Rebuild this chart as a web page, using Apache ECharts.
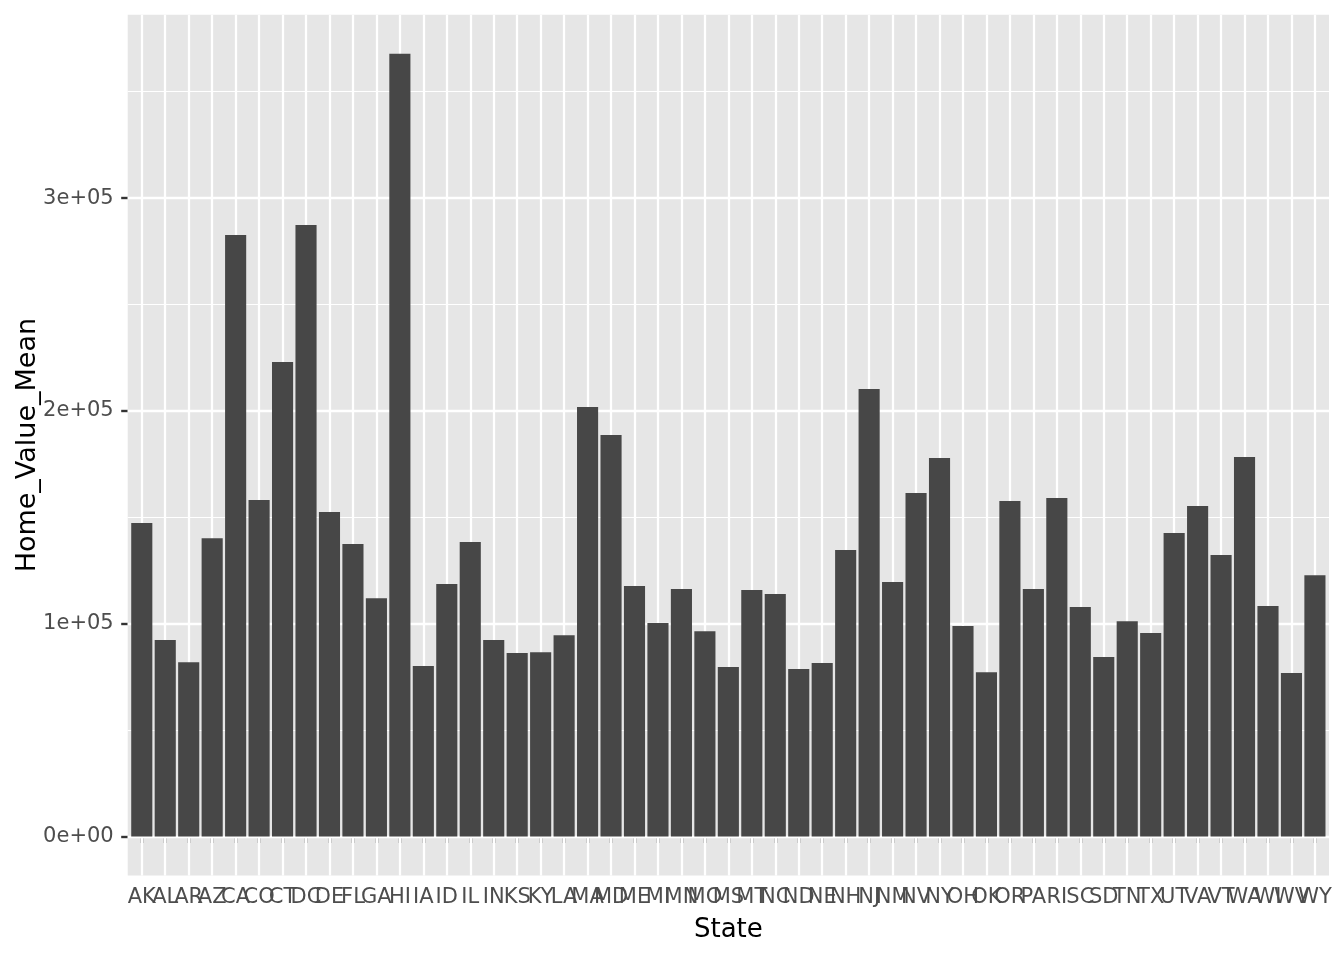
<!DOCTYPE html>
<html>
<head>
<meta charset="utf-8">
<script src="https://cdn.jsdelivr.net/npm/echarts@6/dist/echarts.min.js"></script>
<style>
html,body{margin:0;padding:0;background:#fff;}
#chart{width:1344px;height:960px;}
</style>
</head>
<body>
<div id="chart"></div>
<script>
const states = ['AK','AL','AR','AZ','CA','CO','CT','DC','DE','FL','GA','HI','IA','ID','IL','IN','KS','KY','LA','MA','MD','ME','MI','MN','MO','MS','MT','NC','ND','NE','NH','NJ','NM','NV','NY','OH','OK','OR','PA','RI','SC','SD','TN','TX','UT','VA','VT','WA','WI','WV','WY'];
const homeValueMean = [147300,92300,81900,140200,282700,158100,223000,287400,152500,137400,112000,367800,80100,118600,138400,92300,86200,86600,94600,201800,188700,117700,100300,116300,96500,79600,115800,113900,78700,81500,134600,210300,119600,161400,177900,98900,77200,157600,116300,159100,107800,84300,101200,95600,142600,155300,132300,178300,108300,76800,122800];
const yMajorTicks = [0,100000,200000,300000];
const yMajorLabels = ['0e+00','1e+05','2e+05','3e+05'];
const yMinorGrid = [50000,150000,250000,350000];

// ggplot-style continuous expansion (5%) and discrete expansion (0.6 units)
const maxVal = Math.max(...homeValueMean);
const yMin = -0.05 * maxVal;
const yMax = 1.05 * maxVal;

const panel = {left:127.7, right:1329, top:14.7, bottom:875.6};
const unit = (panel.right - panel.left) / (states.length - 1 + 1.2);
const barGrid = {left: panel.left + 0.1*unit, width: states.length*unit};

const FONT = 'DejaVu Sans';
const chart = echarts.init(document.getElementById('chart'), null, {renderer:'canvas'});
chart.setOption({
  animation:false,
  backgroundColor:'#ffffff',
  grid:[
    {left:panel.left, top:panel.top, width:panel.right-panel.left, height:panel.bottom-panel.top,
     show:true, backgroundColor:'#E6E6E6', borderWidth:0},
    {left:barGrid.left, top:panel.top, width:barGrid.width, height:panel.bottom-panel.top}
  ],
  xAxis:[
    {gridIndex:0, type:'value', min:0, max:1, show:false},
    {gridIndex:1, type:'category', data:states,
     axisLine:{show:false},
     axisTick:{show:true, alignWithLabel:true, length:6.5, lineStyle:{color:'#333333', width:2.4}},
     axisLabel:{interval:0, margin:11, fontFamily:FONT, fontSize:21, color:'#4D4D4D'},
     splitLine:{show:false},
     name:'State', nameLocation:'middle', nameGap:42,
     nameTextStyle:{fontFamily:FONT, fontSize:26, color:'#000000'}}
  ],
  yAxis:[
    {gridIndex:0, type:'value', min:yMin, max:yMax,
     axisLine:{show:false},
     splitLine:{show:false},
     axisTick:{show:true, customValues:yMajorTicks, length:6.5, lineStyle:{color:'#333333', width:2.4}},
     axisLabel:{customValues:yMajorTicks, margin:14, fontFamily:FONT, fontSize:21, color:'#4D4D4D',
       formatter:function(v){const i=yMajorTicks.indexOf(v);return i>=0?yMajorLabels[i]:'';}},
     name:'Home_Value_Mean', nameLocation:'middle', nameGap:86, nameMoveOverlap:false,
     nameTextStyle:{fontFamily:FONT, fontSize:27, color:'#000000'}},
    {gridIndex:1, type:'value', min:yMin, max:yMax, show:false}
  ],
  series:[
    {type:'line', xAxisIndex:0, yAxisIndex:0, data:[], z:1, silent:true,
     markLine:{silent:true, z:1, symbol:['none','none'], label:{show:false}, animation:false,
       data: yMajorTicks.map(v=>({yAxis:v, lineStyle:{color:'#ffffff', width:2.3, type:'solid'}}))
         .concat(yMinorGrid.map(v=>({yAxis:v, lineStyle:{color:'#ffffff', width:1.2, type:'solid'}})))}},
    {type:'line', xAxisIndex:1, yAxisIndex:1, data:[], z:1, silent:true,
     markLine:{silent:true, z:1, symbol:['none','none'], label:{show:false}, animation:false,
       data: states.map(s=>({xAxis:s, lineStyle:{color:'#ffffff', width:2.3, type:'solid'}}))}},
    {type:'bar', xAxisIndex:1, yAxisIndex:1, data:homeValueMean, z:3,
     barCategoryGap:'10%', itemStyle:{color:'#474747'}, silent:true}
  ]
});
</script>
</body>
</html>
